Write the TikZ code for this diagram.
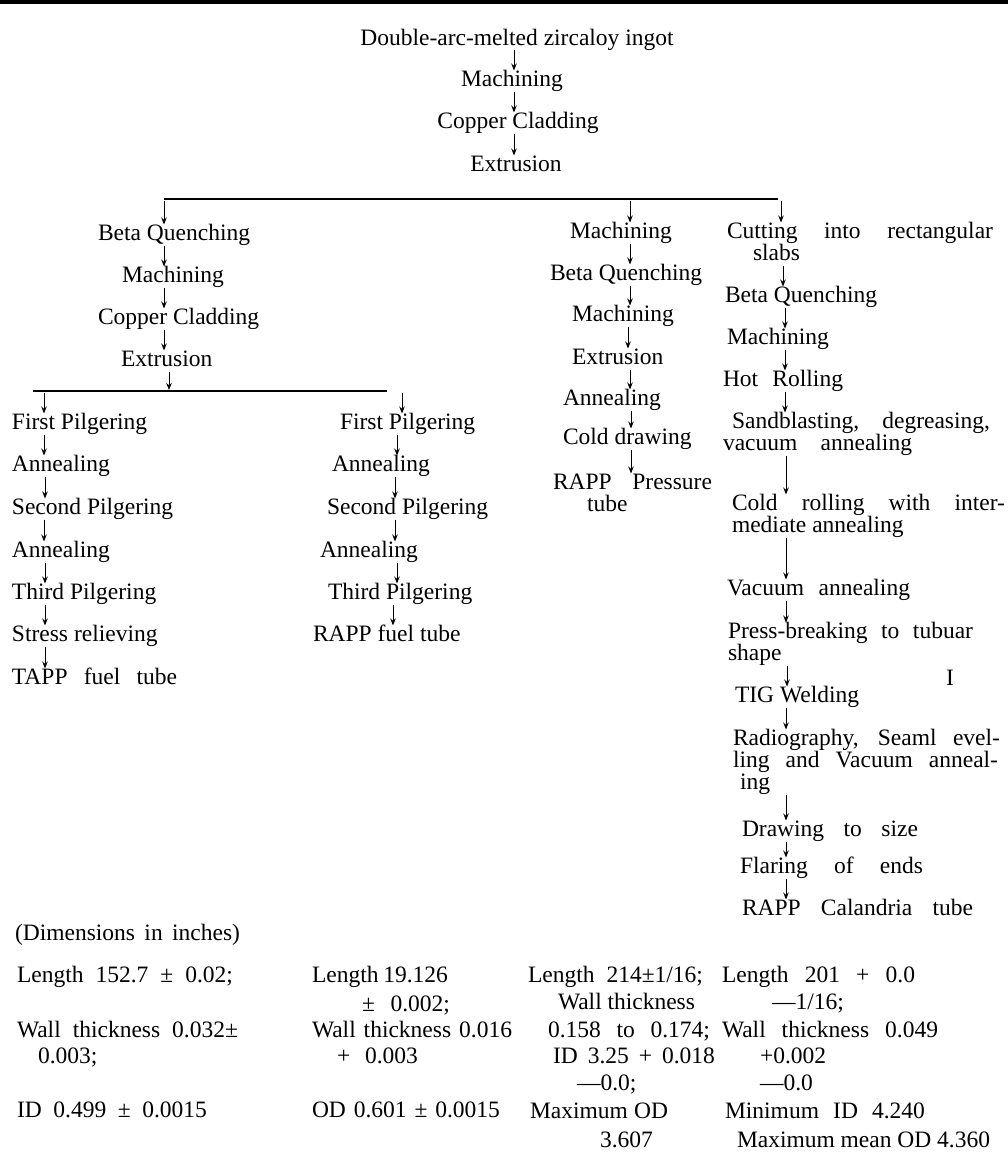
\documentclass[tikz,border=0pt]{standalone}
\usepackage{fontspec}
\setmainfont{Liberation Serif}
\usetikzlibrary{arrows.meta}
\newcommand{\J}[2]{\makebox[#1pt][s]{#2}}
\begin{document}
\begin{tikzpicture}[x=1pt,y=-1pt,
  every node/.style={font=\fontsize{23.5}{28}\selectfont, inner sep=0pt, outer sep=0pt, text height=16pt, text depth=5pt},
  lb/.style={anchor=west},
  cb/.style={anchor=center},
  arr/.style={-{Stealth[length=7pt,width=5.5pt]}, line width=1pt},
  bar/.style={line width=1.3pt}]
\useasboundingbox (0,0) rectangle (1008,1156);
\draw[line width=3.5pt] (0,2) -- (1008,2);
% top column
\node[cb] (t1) at (517,40) {Double-arc-melted zircaloy ingot};
\node[cb] (t2) at (512,81) {Machining};
\node[cb] (t3) at (518,123) {Copper Cladding};
\node[cb] (t4) at (516,166) {Extrusion};
\draw[arr] (t1.south -| 514,0) -- (t2.north -| 514,0);
\draw[arr] (t2.south -| 514,0) -- (t3.north -| 514,0);
\draw[arr] (t3.south -| 514,0) -- (t4.north -| 514,0);
% bar 1
\coordinate (b1w) at (164,199);
\coordinate (b1e) at (778,199);
\coordinate (b1m) at (630,201);
\coordinate (b1r) at (781,201);
\coordinate (b1l) at (164,201);
\draw[bar] (b1w) -- (b1e);
% left branch
\node[lb] (a1) at (98,235) {Beta Quenching};
\node[lb] (a2) at (122,277) {Machining};
\node[lb] (a3) at (98,319) {Copper Cladding};
\node[lb] (a4) at (121,361) {Extrusion};
\draw[arr] (b1l) -- (a1.north -| b1l);
\draw[arr] (a1.south -| 164,0) -- (a2.north -| 164,0);
\draw[arr] (a2.south -| 164,0) -- (a3.north -| 164,0);
\draw[arr] (a3.south -| 164,0) -- (a4.north -| 164,0);
% bar 2
\coordinate (b2w) at (33,391);
\coordinate (b2e) at (387,391);
\coordinate (b2m) at (169,390);
\coordinate (b2l) at (44,393);
\coordinate (b2r) at (402,393);
\draw[bar] (b2w) -- (b2e);
\draw[arr] (a4.south -| b2m) -- (b2m);
% sub-branch left
\node[lb] (l1) at (12,424) {First Pilgering};
\node[lb] (l2) at (12,466) {Annealing};
\node[lb] (l3) at (12,509) {Second Pilgering};
\node[lb] (l4) at (12,552) {Annealing};
\node[lb] (l5) at (12,594) {Third Pilgering};
\node[lb] (l6) at (12,636) {Stress relieving};
\node[lb] (l7) at (12,679) {\J{165}{TAPP fuel tube}};
\draw[arr] (b2l) -- (l1.north -| b2l);
\draw[arr] (l1.south -| 44,0) -- (l2.north -| 44,0);
\draw[arr] (l2.south -| 45,0) -- (l3.north -| 45,0);
\draw[arr] (l3.south -| 44,0) -- (l4.north -| 44,0);
\draw[arr] (l4.south -| 45,0) -- (l5.north -| 45,0);
\draw[arr] (l5.south -| 45,0) -- (l6.north -| 45,0);
\draw[arr] (l6.south -| 45,0) -- (l7.north -| 45,0);
% sub-branch right
\node[lb] (s1) at (340,424) {First Pilgering};
\node[lb] (s2) at (332,466) {Annealing};
\node[lb] (s3) at (327,509) {Second Pilgering};
\node[lb] (s4) at (320,552) {Annealing};
\node[lb] (s5) at (328,594) {Third Pilgering};
\node[lb] (s6) at (313,636) {RAPP fuel tube};
\draw[arr] (b2r) -- (s1.north -| b2r);
\draw[arr] (s1.south -| 397,0) -- (s2.north -| 397,0);
\draw[arr] (s2.south -| 395,0) -- (s3.north -| 395,0);
\draw[arr] (s3.south -| 395,0) -- (s4.north -| 395,0);
\draw[arr] (s4.south -| 397,0) -- (s5.north -| 397,0);
\draw[arr] (s5.south -| 393,0) -- (s6.north -| 393,0);
% middle column
\node[lb] (m1) at (570,233) {Machining};
\node[lb] (m2) at (550,275) {Beta Quenching};
\node[lb] (m3) at (572,316) {Machining};
\node[lb] (m4) at (572,359) {Extrusion};
\node[lb] (m5) at (563,400) {Annealing};
\node[lb] (m6) at (563,439) {Cold drawing};
\node[lb] (m7) at (553,484) {\J{159}{RAPP Pressure}};
\node[lb] (m7b) at (587,506) {tube};
\draw[arr] (b1m) -- (m1.north -| b1m);
\draw[arr] (m1.south -| 630,0) -- (m2.north -| 630,0);
\draw[arr] (m2.south -| 630,0) -- (m3.north -| 630,0);
\draw[arr] (m3.south -| 628,0) -- (m4.north -| 628,0);
\draw[arr] (m4.south -| 630,0) -- (m5.north -| 630,0);
\draw[arr] (m5.south -| 631,0) -- (m6.north -| 631,0);
\draw[arr] (m6.south -| 631,0) -- (m7.north -| 631,0);
% right column
\node[lb] (r1) at (727,233) {\J{266}{Cutting into rectangular}};
\node[lb] (r1b) at (753,255) {slabs};
\node[lb] (r2) at (725,297) {Beta Quenching};
\node[lb] (r3) at (727,339) {Machining};
\node[lb] (r4) at (723,381) {\J{120}{Hot Rolling}};
\node[lb] (r5) at (732,423) {\J{258}{Sandblasting, degreasing,}};
\node[lb] (r5b) at (723,445) {\J{189}{vacuum annealing}};
\node[lb] (r6) at (732,505) {\J{273}{Cold rolling with inter-}};
\node[lb] (r6b) at (732,527) {mediate annealing};
\node[lb] (r7) at (727,590) {\J{183}{Vacuum annealing}};
\node[lb] (r8) at (728,633) {\J{245}{Press-breaking to tubuar}};
\node[lb] (r8b) at (728,655) {shape};
\node[lb] (stray) at (946,680) {I};
\node[lb] (r9) at (735,697) {TIG Welding};
\node[lb] (r10) at (733,740) {\J{267}{Radiography, Seaml evel-}};
\node[lb] (r10b) at (733,762) {\J{265}{ling and Vacuum anneal-}};
\node[lb] (r10c) at (740,784) {ing};
\node[lb] (r11) at (742,831) {\J{176}{Drawing to size}};
\node[lb] (r12) at (740,868) {\J{183}{Flaring of ends}};
\node[lb] (r13) at (742,910) {\J{231}{RAPP Calandria tube}};
\draw[arr] (b1r) -- (r1.north -| b1r);
\draw[arr] (r1b.south -| 783,0) -- (r2.north -| 783,0);
\draw[arr] (r2.south -| 785,0) -- (r3.north -| 785,0);
\draw[arr] (r3.south -| 785,0) -- (r4.north -| 785,0);
\draw[arr] (r4.south -| 785,0) -- (r5.north -| 785,0);
\draw[arr] (r5b.south -| 786,0) -- (r6.north -| 786,0);
\draw[arr] (r6b.south -| 786,0) -- (r7.north -| 786,0);
\draw[arr] (r7.south -| 786,0) -- (r8.north -| 786,0);
\draw[arr] (r8b.south -| 787,0) -- (r9.north -| 787,0);
\draw[arr] (r9.south -| 786,0) -- (r10.north -| 786,0);
\draw[arr] (r10c.south -| 786,0) -- (r11.north -| 786,0);
\draw[arr] (r11.south -| 786,0) -- (r12.north -| 786,0);
\draw[arr] (r12.south -| 786,0) -- (r13.north -| 786,0);
% dimensions
\node[lb] (dim) at (15,935) {\J{225}{(Dimensions in inches)}};
\node[lb] (c1a) at (17,977) {\J{216}{Length 152.7 ± 0.02;}};
\node[lb] (c1b) at (17,1032) {\J{221}{Wall thickness 0.032±}};
\node[lb] (c1c) at (38,1058) {0.003;};
\node[lb] (c1d) at (17,1112) {\J{190}{ID 0.499 ± 0.0015}};
\node[lb] (c2a) at (312,977) {\J{136}{Length 19.126}};
\node[lb] (c2b) at (362,1006) {\J{88}{± 0.002;}};
\node[lb] (c2c) at (312,1032) {\J{200}{Wall thickness 0.016}};
\node[lb] (c2d) at (337,1058) {\J{81}{+ 0.003}};
\node[lb] (c2e) at (312,1112) {\J{188}{OD 0.601 ± 0.0015}};
\node[lb] (c3a) at (528,977) {\J{175}{Length 214±1/16;}};
\node[lb] (c3b) at (558,1004) {\J{137}{Wall thickness}};
\node[lb] (c3c) at (548,1032) {\J{162}{0.158 to 0.174;}};
\node[lb] (c3d) at (553,1058) {\J{162}{ID 3.25 + 0.018}};
\node[lb] (c3e) at (577,1085) {—0.0;};
\node[lb] (c3f) at (530,1113) {\J{138}{Maximum OD}};
\node[lb] (c3g) at (600,1142) {3.607};
\node[lb] (c4a) at (722,977) {\J{193}{Length 201 + 0.0}};
\node[lb] (c4b) at (772,1004) {—1/16;};
\node[lb] (c4c) at (722,1032) {\J{216}{Wall thickness 0.049}};
\node[lb] (c4d) at (760,1058) {+0.002};
\node[lb] (c4e) at (760,1085) {—0.0};
\node[lb] (c4f) at (725,1113) {\J{200}{Minimum ID 4.240}};
\node[lb] (c4g) at (737,1142) {\J{253}{Maximum mean OD 4.360}};
\end{tikzpicture}
\end{document}
